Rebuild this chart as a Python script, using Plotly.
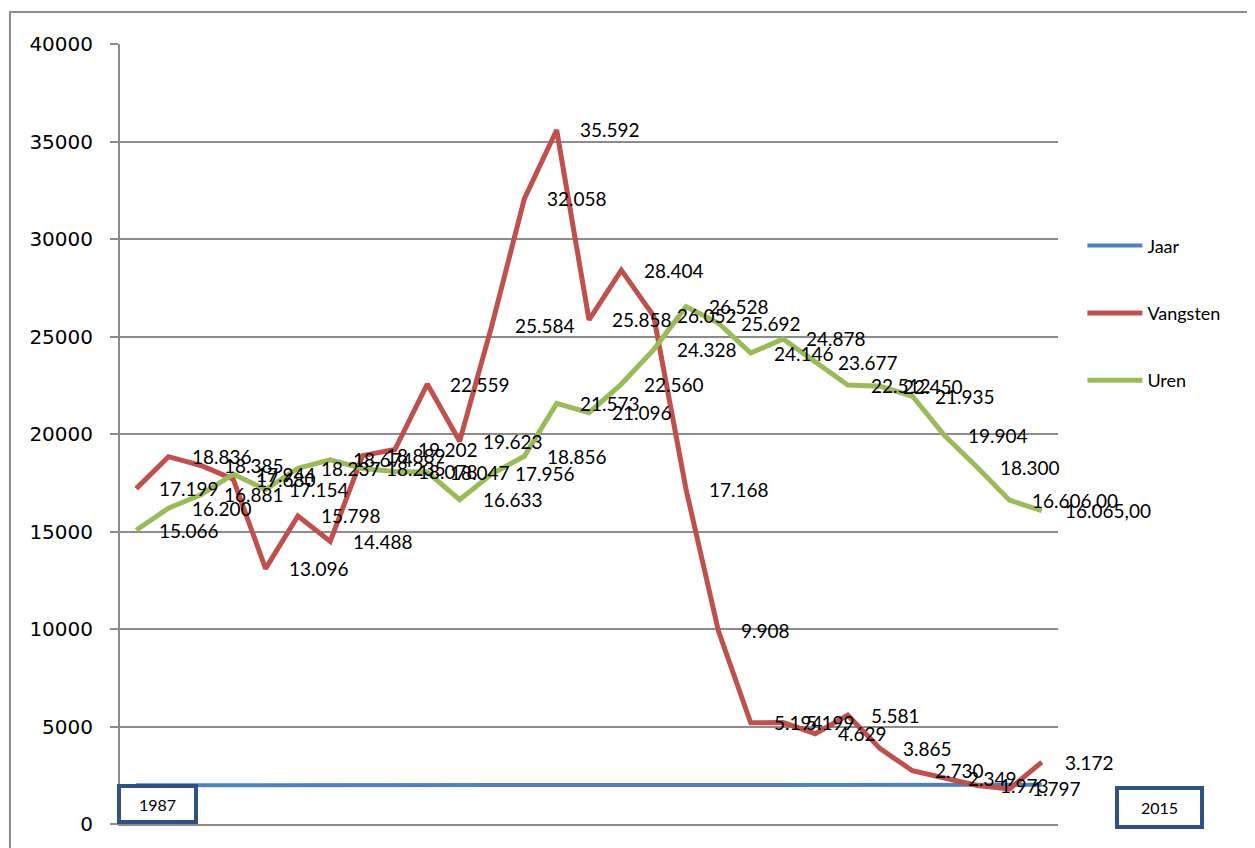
import plotly.graph_objects as go

jaar = list(range(1987, 2016))
vangsten = [17199, 18836, 18385, 17680, 13096, 15798, 14488, 18889, 19202, 22559,
            19623, 25584, 32058, 35592, 25858, 28404, 26052, 17168, 9908, 5194,
            5199, 4629, 5581, 3865, 2730, 2349, 1973, 1797, 3172]
uren = [15066, 16200, 16881, 17944, 17154, 18237, 18674, 18235, 18078, 18047,
        16633, 17956, 18856, 21573, 21096, 22560, 24328, 26528, 25692, 24146,
        24878, 23677, 22512, 22450, 21935, 19904, 18300, 16606, 16065]
uren_decimals = [False] * 27 + [True, True]
y_ticks = [0, 5000, 10000, 15000, 20000, 25000, 30000, 35000, 40000]

BLUE = "#4F81BD"
RED = "#C0504D"
GREEN = "#9BBB59"
LABEL_FONT = dict(family="Lato, 'Open Sans', sans-serif", size=19, color="black")


def nl(v, dec=False):
    s = f"{v:,}".replace(",", ".")
    return s + (",00" if dec else "")


fig = go.Figure()
fig.add_trace(go.Scatter(x=jaar, y=jaar, mode="lines", name="Jaar",
                         line=dict(color=BLUE, width=4), legendgroup="a"))
fig.add_trace(go.Scatter(x=jaar, y=vangsten, mode="lines", name="Vangsten",
                         line=dict(color=RED, width=5), legendgroup="b"))
fig.add_trace(go.Scatter(x=jaar, y=uren, mode="lines", name="Uren",
                         line=dict(color=GREEN, width=5), legendgroup="c"))

annotations = []
for x, v in zip(jaar, vangsten):
    annotations.append(dict(x=x, y=v, text=nl(v), showarrow=False, xanchor="left",
                            yanchor="middle", xshift=21, font=LABEL_FONT))
for x, v, d in zip(jaar, uren, uren_decimals):
    annotations.append(dict(x=x, y=v, text=nl(v, d), showarrow=False, xanchor="left",
                            yanchor="middle", xshift=21, font=LABEL_FONT))

box_font = dict(family="Lato, 'Open Sans', sans-serif", size=16, color="black")
annotations.append(dict(xref="paper", yref="paper", x=0.0405, y=0.0256, text=str(jaar[0]),
                        showarrow=False, xanchor="center", yanchor="middle",
                        width=73, height=32, bordercolor="#2E5283", borderwidth=4,
                        borderpad=0, bgcolor="white", font=box_font))
annotations.append(dict(xref="paper", yref="paper", x=1.1077, y=0.0217, text=str(jaar[-1]),
                        showarrow=False, xanchor="center", yanchor="middle",
                        width=81, height=35, bordercolor="#2E5283", borderwidth=4,
                        borderpad=0, bgcolor="white", font=box_font))

fig.update_layout(
    width=1247, height=840,
    margin=dict(l=112, r=197, t=36, b=22),
    paper_bgcolor="white", plot_bgcolor="white",
    showlegend=True,
    legend=dict(x=1.026, y=0.765, xanchor="left", yanchor="top",
                font=dict(family="Lato, 'Open Sans', sans-serif", size=18, color="black"),
                tracegroupgap=41, itemwidth=55, traceorder="grouped",
                bgcolor="rgba(0,0,0,0)"),
    annotations=annotations,
    shapes=[dict(type="rect", xref="paper", yref="paper", x0=-0.1173, y0=-0.2,
                 x1=1.4, y1=1.0409, line=dict(color="#8c8c8c", width=2), layer="below")],
)
fig.update_xaxes(range=[1986.5, 2015.5], showticklabels=False, showgrid=False,
                 zeroline=False, showline=True, linecolor="#8c8c8c", linewidth=2,
                 ticks="")
fig.update_yaxes(range=[0, 40000], tickvals=y_ticks, tickformat="d", showgrid=True,
                 gridcolor="#8c8c8c", gridwidth=2, zeroline=False,
                 showline=True, linecolor="#8c8c8c", linewidth=2,
                 ticks="outside", ticklen=8, tickcolor="#8c8c8c", tickwidth=2,
                 ticklabelstandoff=13,
                 tickfont=dict(family="DejaVu Sans", size=20, color="black"))

fig.write_html("out.html")
